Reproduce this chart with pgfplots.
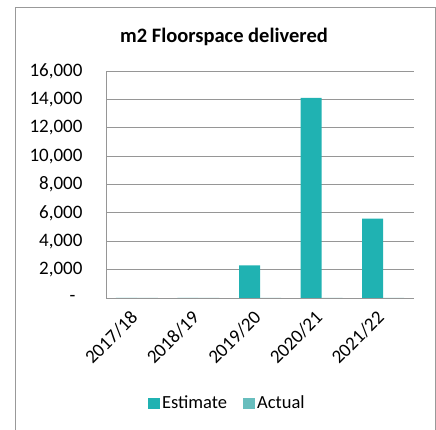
\documentclass[border=0pt]{standalone}
\usepackage{pgfplots}
\pgfplotsset{compat=1.18}
\usepackage{fontspec}
\setmainfont{Carlito}
\definecolor{estC}{RGB}{32,178,178}
\definecolor{actC}{RGB}{104,190,190}
\definecolor{gridC}{RGB}{150,150,150}
\newcommand{\xl}[1]{\rotatebox{45}{#1}}
\newcommand{\yl}[1]{\hbox{#1\kern 20pt}}
\begin{document}
\begin{tikzpicture}[x=1pt,y=1pt]
\path[use as bounding box] (0,0) rectangle (436,430);
\begin{axis}[
  at={(106pt,132pt)}, anchor=south west,
  scale only axis,
  width=308pt, height=227pt,
  ybar=0pt,
  bar width=21pt,
  xmin=-0.5, xmax=4.5,
  ymin=0, ymax=16000,
  scaled y ticks=false,
  xtick={0,1,2,3,4},
  xticklabels={\xl{2017/18},\xl{2018/19},\xl{2019/20},\xl{2020/21},\xl{2021/22}},
  ytick={0,2000,4000,6000,8000,10000,12000,14000,16000},
  yticklabels={\hbox{-\kern 27pt},\yl{2,000},\yl{4,000},\yl{6,000},\yl{8,000},\yl{10,000},\yl{12,000},\yl{14,000},\yl{16,000}},
  major tick length=0pt,
  axis x line*=bottom, axis y line*=left,
  axis line style={gridC, line width=0.9pt},
  ymajorgrids,
  grid style={gridC, line width=0.9pt},
  tick label style={font=\fontsize{19}{21}\selectfont},
  yticklabel style={anchor=east},
  xticklabel style={anchor=north east, xshift=6pt, yshift=-8pt},
  legend style={at={(0.394,-0.4626)}, anchor=center, draw=none, fill=none,
    font=\fontsize{18.5}{20}\selectfont, legend columns=2,
    /tikz/every even column/.append style={column sep=14pt}},
  legend image code/.code={\path[#1] (0pt,-6pt) rectangle (12pt,5pt);},
  clip=false,
]
\addplot[draw=none, fill=estC] coordinates {
  (0,0) (1,0) (2,2300) (3,14100) (4,5600) };
\addplot[draw=none, fill=actC] coordinates {
  (0,0) (1,0) (2,0) (3,0) (4,0) };
\legend{Estimate, Actual}
\end{axis}
\node[font=\bfseries\fontsize{20.5}{23}\selectfont] at (224,393) {m2 Floorspace delivered};
\draw[gray!80, line width=1pt] (15,-3) rectangle (435,422);
\end{tikzpicture}
\end{document}
